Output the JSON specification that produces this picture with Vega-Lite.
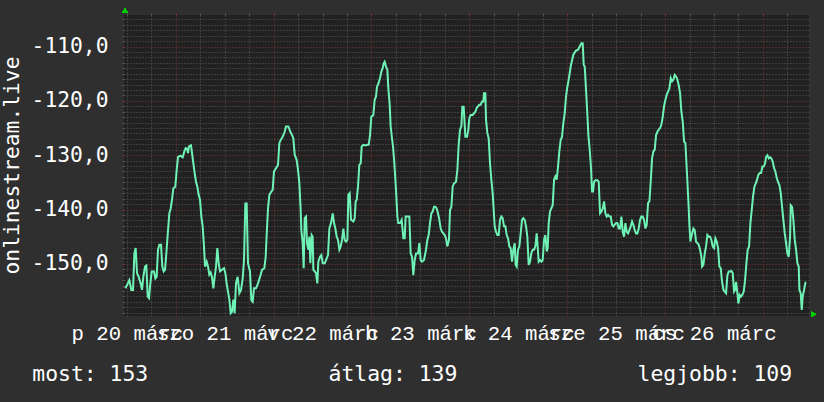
{
  "$schema": "https://vega.github.io/schema/vega-lite/v6.json",
  "width": 685,
  "height": 301,
  "autosize": {"type": "none"},
  "padding": {"left": 124, "top": 15, "right": 15, "bottom": 86},
  "background": "#2f2f2f",
  "config": {"view": {"fill": "#212121", "stroke": null}, "font": "DejaVu Sans Mono"},
  "data": {"values": [
    {"h":11.63,"v":-154.5},{"h":12.04,"v":-153.9},{"h":12.61,"v":-153.0},{"h":13.10,"v":-154.8},{"h":13.51,"v":-154.8},{"h":13.84,"v":-148.1},{"h":14.16,"v":-147.1},{"h":14.49,"v":-151.7},{"h":14.90,"v":-152.4},{"h":15.39,"v":-153.6},{"h":15.72,"v":-154.8},{"h":16.04,"v":-152.4},{"h":16.45,"v":-150.5},{"h":16.78,"v":-150.3},{"h":17.11,"v":-156.0},{"h":17.43,"v":-156.3},{"h":17.76,"v":-153.6},{"h":18.09,"v":-151.4},{"h":18.66,"v":-151.4},{"h":18.99,"v":-152.7},{"h":19.31,"v":-152.4},{"h":19.64,"v":-147.4},{"h":19.97,"v":-146.5},{"h":20.38,"v":-146.5},{"h":20.70,"v":-150.5},{"h":21.03,"v":-151.4},{"h":21.36,"v":-151.1},{"h":21.68,"v":-148.1},{"h":22.01,"v":-144.7},{"h":22.42,"v":-140.7},{"h":22.75,"v":-139.8},{"h":23.07,"v":-138.2},{"h":23.40,"v":-136.1},{"h":23.89,"v":-135.8},{"h":24.22,"v":-132.7},{"h":24.55,"v":-130.3},{"h":25.12,"v":-130.1},{"h":25.69,"v":-130.4},{"h":26.10,"v":-129.3},{"h":26.43,"v":-128.7},{"h":26.75,"v":-128.8},{"h":27.00,"v":-129.6},{"h":27.24,"v":-128.4},{"h":27.73,"v":-128.2},{"h":27.98,"v":-129.6},{"h":28.31,"v":-131.5},{"h":28.63,"v":-133.3},{"h":28.96,"v":-134.9},{"h":29.29,"v":-135.8},{"h":29.61,"v":-137.3},{"h":29.94,"v":-138.2},{"h":30.27,"v":-141.3},{"h":30.60,"v":-143.1},{"h":30.92,"v":-146.8},{"h":31.17,"v":-150.5},{"h":31.58,"v":-149.6},{"h":31.90,"v":-150.5},{"h":32.23,"v":-152.0},{"h":32.56,"v":-151.6},{"h":32.88,"v":-152.4},{"h":33.21,"v":-154.5},{"h":33.54,"v":-152.4},{"h":33.87,"v":-150.5},{"h":34.19,"v":-147.1},{"h":34.52,"v":-149.9},{"h":34.85,"v":-151.4},{"h":35.34,"v":-151.1},{"h":35.83,"v":-150.8},{"h":36.16,"v":-151.7},{"h":36.48,"v":-153.6},{"h":36.81,"v":-155.1},{"h":37.14,"v":-156.6},{"h":37.46,"v":-159.1},{"h":37.79,"v":-158.8},{"h":38.12,"v":-156.6},{"h":38.44,"v":-159.1},
    {"h":38.77,"v":-153.5},{"h":39.18,"v":-152.4},{"h":39.59,"v":-155.4},{"h":40.00,"v":-154.8},{"h":40.41,"v":-152.7},{"h":40.73,"v":-149.3},{"h":41.06,"v":-138.9},{"h":41.39,"v":-138.9},{"h":41.71,"v":-149.9},{"h":42.20,"v":-151.4},{"h":42.53,"v":-156.7},{"h":42.86,"v":-157.0},{"h":43.18,"v":-154.5},{"h":43.68,"v":-154.5},{"h":44.17,"v":-153.6},{"h":44.66,"v":-152.4},{"h":45.15,"v":-151.1},{"h":45.72,"v":-150.8},{"h":46.05,"v":-148.7},{"h":46.29,"v":-144.7},{"h":46.62,"v":-139.8},{"h":46.95,"v":-137.3},{"h":47.44,"v":-136.7},{"h":47.76,"v":-136.4},{"h":48.09,"v":-133.0},{"h":48.58,"v":-132.4},{"h":49.07,"v":-131.8},{"h":49.40,"v":-127.8},{"h":49.73,"v":-127.2},{"h":50.22,"v":-126.6},{"h":50.71,"v":-125.7},{"h":51.03,"v":-124.7},{"h":51.61,"v":-124.7},{"h":52.10,"v":-125.7},{"h":52.51,"v":-126.3},{"h":52.83,"v":-126.9},{"h":53.16,"v":-129.9},{"h":53.65,"v":-130.9},{"h":53.98,"v":-132.7},{"h":54.31,"v":-135.2},{"h":54.63,"v":-140.1},{"h":54.79,"v":-143.8},{"h":55.12,"v":-146.2},{"h":55.37,"v":-150.8},{"h":55.61,"v":-141.6},{"h":55.94,"v":-141.3},{"h":56.18,"v":-146.2},{"h":56.51,"v":-147.4},{"h":56.76,"v":-145.0},{"h":57.00,"v":-149.9},{"h":57.33,"v":-144.7},{"h":57.57,"v":-145.0},{"h":57.74,"v":-151.1},{"h":58.07,"v":-151.4},{"h":58.39,"v":-151.7},{"h":58.72,"v":-153.6},{"h":58.96,"v":-149.6},{"h":59.37,"v":-148.7},{"h":59.70,"v":-148.4},{"h":60.03,"v":-149.9},{"h":60.52,"v":-149.9},{"h":60.85,"v":-149.3},{"h":61.34,"v":-148.4},{"h":61.66,"v":-143.5},{"h":62.07,"v":-142.5},{"h":62.48,"v":-140.7},{"h":62.81,"v":-142.5},{"h":63.14,"v":-143.5},{"h":63.46,"v":-145.0},{"h":63.79,"v":-145.6},{"h":64.12,"v":-147.4},{"h":64.44,"v":-146.8},{"h":64.77,"v":-145.6},{"h":65.10,"v":-143.5},{"h":65.42,"v":-145.6},{"h":65.75,"v":-145.9},{"h":66.08,"v":-145.6},{"h":66.32,"v":-137.3},{"h":66.65,"v":-137.0},
    {"h":66.98,"v":-141.9},{"h":67.55,"v":-142.2},{"h":67.88,"v":-141.6},{"h":68.12,"v":-138.5},{"h":68.37,"v":-138.2},{"h":68.69,"v":-135.8},{"h":69.02,"v":-131.8},{"h":69.35,"v":-131.5},{"h":69.59,"v":-128.4},{"h":70.00,"v":-128.1},{"h":70.49,"v":-128.2},{"h":70.98,"v":-128.1},{"h":71.31,"v":-128.1},{"h":71.64,"v":-126.3},{"h":71.96,"v":-122.9},{"h":72.45,"v":-122.6},{"h":72.78,"v":-119.8},{"h":73.11,"v":-119.2},{"h":73.35,"v":-117.4},{"h":73.76,"v":-116.7},{"h":74.09,"v":-115.8},{"h":74.42,"v":-114.6},{"h":74.74,"v":-114.0},{"h":74.99,"v":-113.1},{"h":75.23,"v":-112.8},{"h":75.56,"v":-113.7},{"h":75.89,"v":-114.3},{"h":76.13,"v":-117.7},{"h":76.46,"v":-120.7},{"h":76.70,"v":-124.7},{"h":77.03,"v":-126.9},{"h":77.28,"v":-128.4},{"h":77.60,"v":-131.5},{"h":78.01,"v":-136.4},{"h":78.34,"v":-141.3},{"h":78.58,"v":-142.5},{"h":78.99,"v":-142.5},{"h":79.40,"v":-141.9},{"h":79.81,"v":-145.3},{"h":80.14,"v":-145.3},{"h":80.38,"v":-141.3},{"h":80.79,"v":-141.3},{"h":81.28,"v":-141.3},{"h":81.61,"v":-148.1},{"h":81.94,"v":-148.7},{"h":82.26,"v":-152.1},{"h":82.59,"v":-149.3},{"h":82.92,"v":-148.1},{"h":83.41,"v":-148.1},{"h":83.74,"v":-146.2},{"h":84.06,"v":-149.3},{"h":84.39,"v":-149.6},{"h":84.88,"v":-149.3},{"h":85.37,"v":-147.4},{"h":85.70,"v":-145.6},{"h":86.02,"v":-144.7},{"h":86.35,"v":-142.5},{"h":86.68,"v":-140.7},{"h":86.99,"v":-140.4},{"h":87.33,"v":-139.5},{"h":87.66,"v":-139.5},{"h":87.99,"v":-139.8},{"h":88.31,"v":-140.7},{"h":88.64,"v":-141.9},{"h":88.97,"v":-143.5},{"h":89.30,"v":-144.1},{"h":89.62,"v":-144.4},{"h":89.95,"v":-144.7},{"h":90.28,"v":-145.3},{"h":90.60,"v":-146.8},{"h":91.00,"v":-145.6},{"h":91.26,"v":-140.1},{"h":91.59,"v":-139.5},{"h":91.91,"v":-135.8},{"h":92.24,"v":-135.2},{"h":92.73,"v":-134.9},{"h":93.06,"v":-132.7},{"h":93.38,"v":-128.1},{"h":93.71,"v":-125.3},{"h":94.04,"v":-124.7},{"h":94.28,"v":-121.1},{"h":94.61,"v":-121.1},
    {"h":95.02,"v":-126.6},{"h":95.43,"v":-126.6},{"h":95.75,"v":-125.3},{"h":96.00,"v":-123.2},{"h":96.33,"v":-122.6},{"h":96.82,"v":-122.6},{"h":97.14,"v":-122.3},{"h":97.47,"v":-122.0},{"h":97.80,"v":-121.3},{"h":98.12,"v":-121.0},{"h":98.45,"v":-120.7},{"h":98.78,"v":-120.7},{"h":99.10,"v":-120.1},{"h":99.43,"v":-120.1},{"h":99.60,"v":-118.6},{"h":99.92,"v":-118.6},{"h":100.09,"v":-123.5},{"h":100.41,"v":-125.9},{"h":100.74,"v":-126.9},{"h":101.07,"v":-131.5},{"h":101.39,"v":-134.5},{"h":101.72,"v":-137.0},{"h":101.97,"v":-140.1},{"h":102.21,"v":-143.1},{"h":102.54,"v":-144.1},{"h":102.87,"v":-144.7},{"h":103.19,"v":-144.7},{"h":103.52,"v":-141.9},{"h":103.85,"v":-141.3},{"h":104.17,"v":-141.6},{"h":104.50,"v":-143.1},{"h":104.83,"v":-143.1},{"h":105.16,"v":-144.7},{"h":105.48,"v":-145.3},{"h":105.81,"v":-146.8},{"h":106.14,"v":-147.1},{"h":106.46,"v":-149.6},{"h":106.79,"v":-147.4},{"h":107.12,"v":-146.2},{"h":107.36,"v":-150.2},{"h":107.61,"v":-150.5},{"h":107.93,"v":-147.4},{"h":108.26,"v":-146.8},{"h":108.59,"v":-144.4},{"h":108.92,"v":-141.9},{"h":109.24,"v":-141.6},{"h":109.57,"v":-141.9},{"h":109.90,"v":-143.1},{"h":110.22,"v":-145.0},{"h":110.55,"v":-150.2},{"h":110.88,"v":-149.6},{"h":111.21,"v":-148.0},{"h":111.53,"v":-147.4},{"h":111.86,"v":-147.4},{"h":112.19,"v":-146.8},{"h":112.51,"v":-144.4},{"h":112.76,"v":-146.8},{"h":113.00,"v":-149.6},{"h":113.33,"v":-149.3},{"h":113.66,"v":-149.6},{"h":113.99,"v":-149.3},{"h":114.31,"v":-145.6},{"h":114.64,"v":-144.7},{"h":114.97,"v":-147.7},{"h":115.21,"v":-147.1},{"h":115.46,"v":-142.5},{"h":115.78,"v":-140.4},{"h":116.11,"v":-139.8},{"h":116.44,"v":-139.2},{"h":116.77,"v":-134.5},{"h":117.09,"v":-133.9},{"h":117.42,"v":-134.5},{"h":117.75,"v":-132.1},{"h":118.07,"v":-129.3},{"h":118.40,"v":-127.2},{"h":118.73,"v":-126.6},{"h":119.05,"v":-124.1},{"h":119.38,"v":-122.3},{"h":119.71,"v":-119.2},{"h":120.04,"v":-117.4},{"h":120.36,"v":-116.1},{"h":120.90,"v":-113.5},{"h":121.50,"v":-111.5},{"h":122.10,"v":-110.8},
    {"h":122.66,"v":-110.6},{"h":123.07,"v":-110.0},{"h":123.48,"v":-109.4},{"h":123.80,"v":-109.4},{"h":124.05,"v":-113.4},{"h":124.30,"v":-113.7},{"h":124.62,"v":-118.0},{"h":124.95,"v":-122.6},{"h":125.19,"v":-126.3},{"h":125.52,"v":-129.0},{"h":125.85,"v":-132.4},{"h":126.09,"v":-136.7},{"h":126.34,"v":-136.7},{"h":126.58,"v":-134.9},{"h":126.91,"v":-134.6},{"h":127.40,"v":-134.6},{"h":127.73,"v":-134.9},{"h":128.06,"v":-140.7},{"h":128.38,"v":-140.4},{"h":128.71,"v":-139.8},{"h":129.04,"v":-138.5},{"h":129.36,"v":-140.7},{"h":129.69,"v":-141.3},{"h":130.02,"v":-141.0},{"h":130.35,"v":-141.3},{"h":130.67,"v":-141.3},{"h":131.00,"v":-142.8},{"h":131.33,"v":-143.1},{"h":131.65,"v":-142.8},{"h":131.98,"v":-142.5},{"h":132.31,"v":-142.5},{"h":132.64,"v":-143.5},{"h":132.96,"v":-143.5},{"h":133.29,"v":-141.3},{"h":133.62,"v":-144.1},{"h":133.94,"v":-145.0},{"h":134.27,"v":-142.5},{"h":134.60,"v":-144.1},{"h":134.92,"v":-144.4},{"h":135.25,"v":-143.8},{"h":135.58,"v":-143.1},{"h":135.91,"v":-142.2},{"h":136.23,"v":-142.8},{"h":136.56,"v":-143.8},{"h":136.89,"v":-144.4},{"h":137.21,"v":-144.4},{"h":137.54,"v":-143.5},{"h":137.87,"v":-141.9},{"h":138.19,"v":-141.3},{"h":138.52,"v":-141.3},{"h":138.85,"v":-141.9},{"h":139.18,"v":-143.5},{"h":139.50,"v":-142.8},{"h":139.83,"v":-138.8},{"h":140.16,"v":-138.5},{"h":140.48,"v":-134.9},{"h":140.81,"v":-130.6},{"h":141.14,"v":-129.3},{"h":141.46,"v":-129.0},{"h":141.79,"v":-126.3},{"h":142.12,"v":-125.7},{"h":142.45,"v":-125.3},{"h":142.77,"v":-125.0},{"h":143.10,"v":-124.4},{"h":143.43,"v":-122.9},{"h":143.75,"v":-121.0},{"h":144.08,"v":-119.8},{"h":144.41,"v":-118.9},{"h":144.73,"v":-118.3},{"h":145.06,"v":-117.7},{"h":145.39,"v":-115.8},{"h":145.72,"v":-116.4},{"h":146.04,"v":-116.1},{"h":146.37,"v":-115.2},{"h":146.70,"v":-115.5},{"h":147.02,"v":-116.1},{"h":147.35,"v":-117.1},{"h":147.68,"v":-118.6},{"h":148.00,"v":-122.0},{"h":148.33,"v":-123.8},{"h":148.66,"v":-127.5},{"h":148.99,"v":-127.8},{"h":149.31,"v":-132.4},{"h":149.48,"v":-134.9},{"h":149.72,"v":-138.5},{"h":149.97,"v":-142.8},{"h":150.21,"v":-145.9},{"h":150.54,"v":-144.7},
    {"h":150.95,"v":-143.5},{"h":151.27,"v":-143.8},{"h":151.60,"v":-145.9},{"h":151.93,"v":-146.2},{"h":152.26,"v":-146.5},{"h":152.58,"v":-147.4},{"h":152.91,"v":-148.7},{"h":153.07,"v":-150.5},{"h":153.40,"v":-150.2},{"h":153.73,"v":-148.1},{"h":154.05,"v":-146.8},{"h":154.38,"v":-144.7},{"h":154.71,"v":-145.0},{"h":155.04,"v":-145.0},{"h":155.36,"v":-145.6},{"h":155.69,"v":-146.8},{"h":156.02,"v":-147.1},{"h":156.34,"v":-145.3},{"h":156.67,"v":-145.9},{"h":157.00,"v":-147.1},{"h":157.32,"v":-150.5},{"h":157.65,"v":-150.8},{"h":157.98,"v":-153.3},{"h":158.31,"v":-154.8},{"h":158.63,"v":-155.1},{"h":158.96,"v":-155.4},{"h":159.29,"v":-152.1},{"h":159.61,"v":-151.4},{"h":159.94,"v":-151.4},{"h":160.27,"v":-151.3},{"h":160.59,"v":-151.7},{"h":160.92,"v":-155.1},{"h":161.17,"v":-154.8},{"h":161.41,"v":-153.3},{"h":161.74,"v":-155.4},{"h":161.98,"v":-157.3},{"h":162.31,"v":-155.7},{"h":162.64,"v":-156.0},{"h":162.97,"v":-155.7},{"h":163.29,"v":-155.1},{"h":163.62,"v":-153.0},{"h":163.95,"v":-149.9},{"h":164.27,"v":-147.4},{"h":164.60,"v":-146.8},{"h":164.93,"v":-142.5},{"h":165.25,"v":-140.1},{"h":165.58,"v":-137.6},{"h":165.91,"v":-135.8},{"h":166.24,"v":-135.2},{"h":166.56,"v":-134.5},{"h":166.89,"v":-133.6},{"h":167.22,"v":-133.3},{"h":167.54,"v":-133.3},{"h":167.87,"v":-132.1},{"h":168.20,"v":-132.1},{"h":168.53,"v":-131.5},{"h":168.77,"v":-130.3},{"h":169.10,"v":-130.0},{"h":169.42,"v":-130.6},{"h":169.75,"v":-130.4},{"h":170.08,"v":-130.6},{"h":170.41,"v":-131.2},{"h":170.73,"v":-132.4},{"h":171.06,"v":-133.0},{"h":171.39,"v":-134.2},{"h":171.71,"v":-134.9},{"h":172.04,"v":-135.5},{"h":172.37,"v":-137.0},{"h":172.70,"v":-139.5},{"h":173.02,"v":-141.9},{"h":173.35,"v":-144.4},{"h":173.68,"v":-146.2},{"h":174.00,"v":-148.1},{"h":174.33,"v":-148.7},{"h":174.66,"v":-145.0},{"h":174.82,"v":-139.2},{"h":175.15,"v":-139.5},{"h":175.47,"v":-141.9},{"h":175.80,"v":-145.6},{"h":176.13,"v":-147.4},{"h":176.46,"v":-149.9},{"h":176.78,"v":-150.5},{"h":176.95,"v":-154.8},{"h":177.27,"v":-155.4},{"h":177.52,"v":-158.5},{"h":177.76,"v":-156.0},{"h":178.09,"v":-154.8},{"h":178.42,"v":-153.5},{"h":178.66,"v":-153.5}
  ]},
  "layer": [
    {
      "mark": {"type": "line", "opacity": 0},
      "encoding": {
        "x": {"field": "h", "type": "quantitative",
          "scale": {"domain": [11.3, 179.3], "nice": false, "zero": false},
          "axis": {"orient": "top", "values": [12, 18, 30, 36, 42, 54, 60, 66, 78, 84, 90, 102, 108, 114, 126, 132, 138, 150, 156, 162, 174],
            "grid": true, "gridColor": "#5a5a5a", "gridDash": [1, 2], "gridWidth": 1,
            "ticks": true, "tickSize": 2, "tickColor": "#5a5a5a", "labels": false, "domain": false, "title": null}},
        "y": {"field": "v", "type": "quantitative",
          "scale": {"domain": [-159.6, -104.2], "nice": false, "zero": false},
          "axis": {"orient": "left", "values": [-159, -158, -157, -156, -155, -154, -153, -152, -151, -149, -148, -147, -146, -145, -144, -143, -142, -141, -139, -138, -137, -136, -135, -134, -133, -132, -131, -129, -128, -127, -126, -125, -124, -123, -122, -121, -119, -118, -117, -116, -115, -114, -113, -112, -111, -109, -108, -107, -106, -105],
            "grid": true, "gridColor": "#5a5a5a", "gridDash": [1, 2], "gridWidth": 1,
            "ticks": true, "tickSize": 2, "tickColor": "#5a5a5a", "labels": false, "domain": false, "title": null}}
      }
    },
    {
      "mark": {"type": "line", "opacity": 0},
      "encoding": {
        "x": {"field": "h", "type": "quantitative",
          "axis": {"orient": "top", "values": [24, 48, 72, 96, 120, 144, 168],
            "grid": true, "gridColor": "#7c3434", "gridDash": [1, 2], "gridWidth": 1,
            "ticks": true, "tickSize": 2, "tickColor": "#7c3434", "labels": false, "domain": false, "title": null}},
        "y": {"field": "v", "type": "quantitative",
          "axis": {"orient": "left", "values": [-150, -140, -130, -120, -110],
            "grid": true, "gridColor": "#7c3434", "gridDash": [1, 2], "gridWidth": 1,
            "ticks": true, "tickSize": 2, "tickColor": "#7c3434", "domain": false,
            "labelExpr": "'-' + replace(format(-datum.value, '.1f'), '.', ',')",
            "labelFont": "DejaVu Sans Mono", "labelFontSize": 21.3, "labelColor": "#ffffff", "labelPadding": 14,
            "labelBaseline": "middle",
            "title": "onlinestream.live", "titleFont": "DejaVu Sans Mono", "titleFontSize": 21.3, "titleFontWeight": "normal",
            "titleColor": "#ffffff", "titleAngle": -90, "titleX": -106, "titleY": 150, "titleAlign": "center", "titleBaseline": "alphabetic"}}
      }
    },
    {
      "mark": {"type": "line", "color": "#6ff2b6", "strokeWidth": 2, "interpolate": "linear"},
      "encoding": {
        "x": {"field": "h", "type": "quantitative",
          "axis": {"orient": "bottom", "values": [12, 36, 60, 84, 108, 132, 156],
            "labelExpr": "['p 20 márc', 'szo 21 márc', 'v 22 márc', 'h 23 márc', 'k 24 márc', 'sze 25 márc', 'cs 26 márc'][round((datum.value - 12) / 24)]",
            "grid": false, "ticks": false, "tickSize": 0, "domain": false,
            "labelFont": "Liberation Mono", "labelFontSize": 20.7, "labelColor": "#ffffff",
            "labelOverlap": false, "labelFlush": false, "labelBound": false, "labelAlign": "center",
            "labelBaseline": "alphabetic", "labelPadding": 23,
            "title": "most: 153\u00a0\u00a0\u00a0\u00a0\u00a0\u00a0\u00a0\u00a0\u00a0\u00a0\u00a0\u00a0\u00a0\u00a0átlag: 139\u00a0\u00a0\u00a0\u00a0\u00a0\u00a0\u00a0\u00a0\u00a0\u00a0\u00a0\u00a0\u00a0\u00a0legjobb: 109",
            "titleFont": "DejaVu Sans Mono", "titleFontSize": 21.4, "titleFontWeight": "normal", "titleColor": "#ffffff",
            "titleX": -92.2, "titleY": 64.5, "titleAlign": "left", "titleBaseline": "alphabetic", "titleAnchor": null}},
        "y": {"field": "v", "type": "quantitative", "axis": null}
      }
    },
    {
      "mark": {"type": "point", "shape": "triangle-up", "filled": true, "size": 30, "color": "#00d000", "opacity": 1},
      "encoding": {"x": {"datum": 11.55, "type": "quantitative", "axis": null}, "y": {"datum": -103.4, "type": "quantitative", "axis": null}}
    },
    {
      "mark": {"type": "point", "shape": "triangle-right", "filled": true, "size": 30, "color": "#00d000", "opacity": 1},
      "encoding": {"x": {"datum": 180.4, "type": "quantitative", "axis": null}, "y": {"datum": -159.3, "type": "quantitative", "axis": null}}
    }
  ],
  "resolve": {"axis": {"x": "independent", "y": "independent"}}
}
